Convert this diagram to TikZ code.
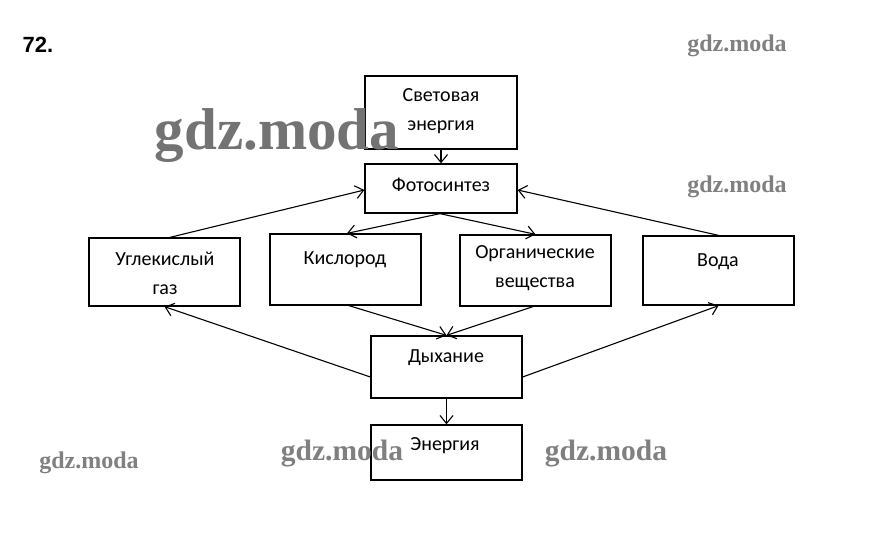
\documentclass[tikz,border=0pt]{standalone}
\usepackage{fontspec}
\setmainfont{Carlito}
\newfontfamily\numfont{Liberation Sans}
\newfontfamily\wmfont{Liberation Serif}
\usetikzlibrary{arrows.meta}
\begin{document}
\begin{tikzpicture}[x=1pt,y=-1pt,
  box/.style={draw, line width=1.3pt, inner sep=0pt},
  lbl/.style={font=\fontsize{20}{29}\selectfont, align=center, inner sep=0pt},
  arr/.style={line width=1.1pt, -{Straight Barb[length=8pt,width=13pt,line width=1.1pt]}},
  wm/.style={text=black!50, font=\wmfont\bfseries, anchor=base, inner sep=0pt}]
\useasboundingbox[fill=white] (0,0) rectangle (883,535);
% boxes
\node[box, minimum width=152pt, minimum height=73pt] (sv) at (441,112.5) {};
\node[box, minimum width=152pt, minimum height=49pt] (fs) at (441,188.5) {};
\node[box, minimum width=151pt, minimum height=68pt] (ug) at (164.5,272) {};
\node[box, minimum width=151pt, minimum height=71pt] (ki) at (345.5,269.5) {};
\node[box, minimum width=151pt, minimum height=71pt] (org) at (535.5,270.5) {};
\node[box, minimum width=151pt, minimum height=69pt] (vo) at (718.5,270.5) {};
\node[box, minimum width=151pt, minimum height=62pt] (dy) at (446.5,367) {};
\node[box, minimum width=151pt, minimum height=55pt] (en) at (446.5,452.5) {};
% texts
\node[lbl] (tsv) at (441,111) {Световая\\энергия};
\node[lbl] (tfs) at (441,185) {Фотосинтез};
\node[lbl] (tug) at (165,273) {Углекислый\\газ};
\node[lbl] (tki) at (345,260) {Кислород};
\node[lbl] (torg) at (535,268) {Органические\\вещества};
\node[lbl] (tvo) at (718,262) {Вода};
\node[lbl] (tdy) at (446,358) {Дыхание};
\node[lbl] (ten) at (445,446) {Энергия};
\node[font=\numfont\bfseries\fontsize{22}{24}\selectfont, inner sep=0pt] (num) at (38,45) {72.};
% arrows
\draw[arr] (sv.south) -- (fs.north);
\draw[arr] ([xshift=5.5pt]ug.north) -- ([yshift=-1.5pt]fs.west);
\draw[arr] ([xshift=-1pt]fs.south) -- ([xshift=1.5pt]ki.north);
\draw[arr] ([xshift=-1pt]fs.south) -- (org.north);
\draw[arr] (vo.north) -- ([yshift=-1.5pt]fs.east);
\draw[arr] ([xshift=3.5pt]ki.south) -- (dy.north);
\draw[arr] ([xshift=-2.5pt]org.south) -- (dy.north);
\draw[arr] ([yshift=-10pt]dy.west) -- (ug.south);
\draw[arr] ([yshift=-10pt]dy.east) -- (vo.south);
\draw[arr] (dy.south) -- (en.north);
% watermarks
\node[wm, font=\wmfont\bfseries\fontsize{59}{60}\selectfont, text=black!55] (w1) at (277,149) {gdz.moda};
\node[wm, font=\wmfont\bfseries\fontsize{24}{26}\selectfont] (w2) at (737,52) {gdz.moda};
\node[wm, font=\wmfont\bfseries\fontsize{24}{26}\selectfont] (w3) at (737,192) {gdz.moda};
\node[wm, font=\wmfont\bfseries\fontsize{24}{26}\selectfont] (w4) at (89,468) {gdz.moda};
\node[wm, font=\wmfont\bfseries\fontsize{29.5}{31}\selectfont] (w5) at (342,460) {gdz.moda};
\node[wm, font=\wmfont\bfseries\fontsize{29.5}{31}\selectfont] (w6) at (606,460) {gdz.moda};
\end{tikzpicture}
\end{document}
